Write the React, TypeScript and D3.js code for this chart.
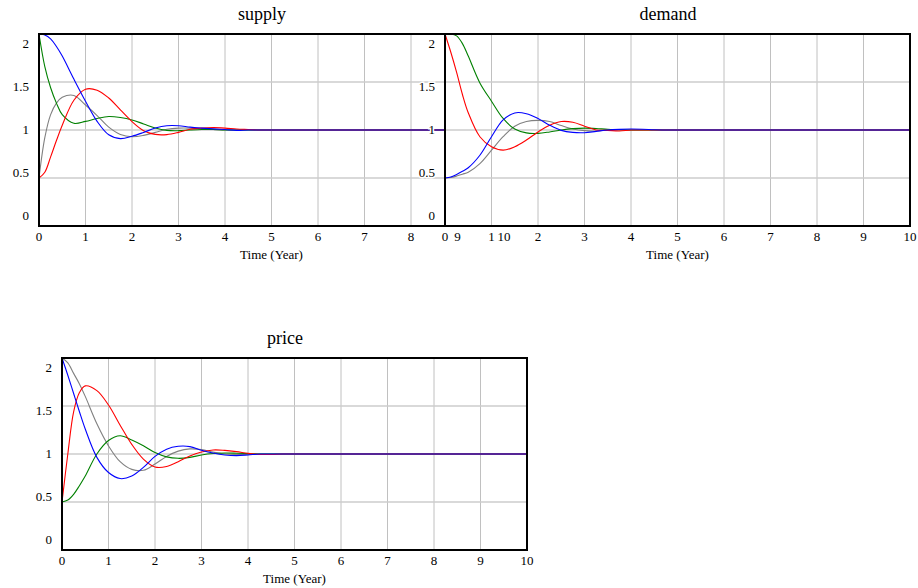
import { useEffect, useRef } from "react";
import * as d3 from "d3";

const TIME = [0, 0.125, 0.25, 0.375, 0.5, 0.75, 1, 1.25, 1.5, 1.75, 2, 2.25, 2.5, 2.75, 3, 3.25, 3.5, 3.75, 4, 4.25, 4.5, 4.75, 5, 6, 7, 8, 9, 10];

const supplyGray = [0.5, 0.92, 1.16, 1.28, 1.34, 1.36, 1.26, 1.15, 1.03, 0.954, 0.93, 0.944, 0.975, 1.007, 1.02, 1.02, 1.012, 1.005, 1, 1, 1, 1, 1, 1, 1, 1, 1, 1];
const supplyGreen = [2, 1.66, 1.44, 1.28, 1.16, 1.07, 1.09, 1.12, 1.14, 1.13, 1.105, 1.063, 1.02, 0.996, 0.993, 1, 1.005, 1.005, 1, 1, 1, 1, 1, 1, 1, 1, 1, 1];
const supplyRed = [0.5, 0.56, 0.72, 0.89, 1.05, 1.31, 1.425, 1.415, 1.333, 1.21, 1.088, 0.993, 0.954, 0.952, 0.975, 1.007, 1.02, 1.025, 1.02, 1.01, 1.005, 1, 1, 1, 1, 1, 1, 1];
const supplyBlue = [2, 1.99, 1.95, 1.87, 1.77, 1.53, 1.3, 1.09, 0.95, 0.91, 0.935, 0.975, 1.02, 1.045, 1.045, 1.03, 1.02, 1.012, 1.005, 0.996, 1, 1, 1, 1, 1, 1, 1, 1];

const demandGray = [0.5, 0.505, 0.52, 0.54, 0.56, 0.65, 0.79, 0.93, 1.04, 1.088, 1.1, 1.088, 1.046, 1.01, 0.993, 0.99, 1, 1, 1, 1, 1, 1, 1, 1, 1, 1, 1, 1];
const demandGreen = [2, 2, 1.98, 1.9, 1.77, 1.49, 1.3, 1.12, 1.01, 0.97, 0.965, 0.98, 1, 1.014, 1.02, 1.015, 1.008, 1.004, 1, 1, 1, 1, 1, 1, 1, 1, 1, 1];
const demandRed = [2, 1.81, 1.6, 1.37, 1.18, 0.93, 0.825, 0.79, 0.825, 0.895, 0.98, 1.05, 1.088, 1.08, 1.04, 1, 0.996, 0.99, 1, 1, 1, 1, 1, 1, 1, 1, 1, 1];
const demandBlue = [0.5, 0.51, 0.537, 0.57, 0.607, 0.737, 0.93, 1.105, 1.178, 1.17, 1.12, 1.05, 0.996, 0.975, 0.972, 0.986, 1, 1.007, 1.01, 1.008, 1.002, 1, 1, 1, 1, 1, 1, 1];

const priceGray = [2, 1.95, 1.84, 1.73, 1.6, 1.315, 1.085, 0.92, 0.84, 0.83, 0.895, 0.975, 1.03, 1.053, 1.046, 1.02, 1, 0.995, 0.995, 1, 1, 1, 1, 1, 1, 1, 1, 1];
const priceGreen = [0.5, 0.52, 0.58, 0.67, 0.77, 1, 1.14, 1.19, 1.145, 1.085, 1.015, 0.97, 0.955, 0.965, 0.99, 1.005, 1.01, 1.008, 1.004, 1, 1, 1, 1, 1, 1, 1, 1, 1];
const priceRed = [0.5, 1, 1.44, 1.64, 1.71, 1.66, 1.51, 1.3, 1.1, 0.947, 0.865, 0.87, 0.92, 0.98, 1.02, 1.042, 1.038, 1.025, 1.007, 0.995, 0.995, 1, 1, 1, 1, 1, 1, 1];
const priceBlue = [2, 1.82, 1.63, 1.44, 1.26, 0.965, 0.807, 0.744, 0.77, 0.86, 0.975, 1.05, 1.08, 1.077, 1.04, 1.01, 0.99, 0.983, 0.99, 1, 1, 1, 1, 1, 1, 1, 1, 1];

const SERIES_COLORS = ["#808080", "#008000", "#ff0000", "#0000ff"];
const Y_TICKS = [2, 1.5, 1, 0.5, 0];
const X_TICKS = [0, 1, 2, 3, 4, 5, 6, 7, 8, 9, 10];
const X_LABEL = "Time (Year)";

const PANELS = [
  { title: "supply", left: 39, top: 34, series: [supplyGray, supplyGreen, supplyRed, supplyBlue] },
  { title: "demand", left: 445, top: 34, series: [demandGray, demandGreen, demandRed, demandBlue] },
  { title: "price", left: 62, top: 358, series: [priceGray, priceGreen, priceRed, priceBlue] },
];

const FONT = '"Liberation Serif", "DejaVu Serif", serif';

const App = () => {
  const svgRef = useRef<SVGSVGElement>(null);

  useEffect(() => {
    const svg = d3.select(svgRef.current);
    svg.selectAll("*").remove();

    const width = 465;
    const height = 192;

    PANELS.forEach((p) => {
      const g = svg
        .append("g")
        .attr("transform", `translate(${p.left},${p.top})`)
        .style("font-family", FONT);

      const x = d3.scaleLinear().domain([0, 10]).range([0, width]);
      const y = d3.scaleLinear().domain([0, 2]).range([height, 0]);
      // Vensim spreads the value labels evenly inside the frame
      const yLab = d3.scaleLinear().domain([2, 0]).range([9, height - 11]);

      g.append("rect")
        .attr("width", width)
        .attr("height", height)
        .attr("fill", "#fff");

      g.selectAll(".vgrid")
        .data(X_TICKS.slice(1, -1))
        .enter()
        .append("line")
        .attr("x1", (d) => x(d))
        .attr("x2", (d) => x(d))
        .attr("y1", 0)
        .attr("y2", height)
        .attr("stroke", "#c0c0c0")
        .attr("stroke-width", 1);

      g.selectAll(".hgrid")
        .data([0.5, 1, 1.5])
        .enter()
        .append("line")
        .attr("x1", 0)
        .attr("x2", width)
        .attr("y1", (d) => y(d))
        .attr("y2", (d) => y(d))
        .attr("stroke", "#cccccc")
        .attr("stroke-width", 1.5);

      const line = d3
        .line<number>()
        .x((d, i) => x(TIME[i]))
        .y((d) => y(d))
        .curve(d3.curveCatmullRom.alpha(0.5));

      p.series.forEach((s, i) => {
        g.append("path")
          .attr("d", line(s))
          .attr("fill", "none")
          .attr("stroke", SERIES_COLORS[i])
          .attr("stroke-width", 1.1);
      });

      g.append("rect")
        .attr("width", width)
        .attr("height", height)
        .attr("fill", "none")
        .attr("stroke", "#000")
        .attr("stroke-width", 2);

      g.selectAll(".ylab")
        .data(Y_TICKS)
        .enter()
        .append("text")
        .attr("x", -10)
        .attr("y", (d) => yLab(d))
        .attr("dy", "0.35em")
        .attr("text-anchor", "end")
        .style("font-size", "13px")
        .attr("fill", "#000")
        .attr("stroke", "#fff")
        .attr("stroke-width", 3)
        .attr("paint-order", "stroke")
        .text((d) => d);

      g.selectAll(".xlab")
        .data(X_TICKS)
        .enter()
        .append("text")
        .attr("x", (d) => x(d))
        .attr("y", height + 15)
        .attr("text-anchor", "middle")
        .style("font-size", "13px")
        .attr("fill", "#000")
        .text((d) => d);

      g.append("text")
        .attr("x", width / 2)
        .attr("y", height + 33)
        .attr("text-anchor", "middle")
        .style("font-size", "13px")
        .attr("fill", "#000")
        .text(X_LABEL);

      g.append("text")
        .attr("x", (width - 19) / 2)
        .attr("y", -14)
        .attr("text-anchor", "middle")
        .style("font-size", "18px")
        .attr("fill", "#000")
        .text(p.title);
    });
  }, []);

  return (
    <svg
      ref={svgRef}
      width={918}
      height={588}
      style={{ position: "absolute", left: 0, top: 0, background: "#fff" }}
    ></svg>
  );
};

export default App;
